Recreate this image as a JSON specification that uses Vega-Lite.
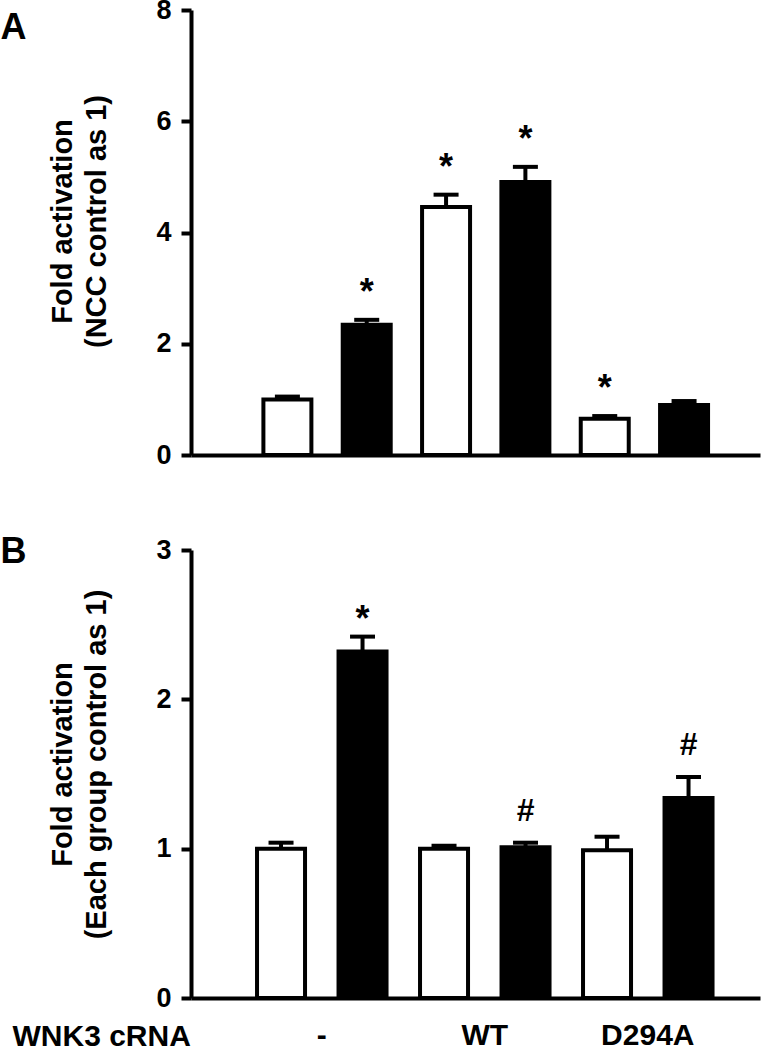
{
  "$schema": "https://vega.github.io/schema/vega-lite/v6.json",
  "padding": {"left": 0, "top": -4, "right": 6, "bottom": 0},
  "background": "white",
  "datasets": {
    "panelA": [
      {"wnk3": "-", "treatment": "control", "value": 1.0, "upper": 1.05, "sig": ""},
      {"wnk3": "-", "treatment": "treated", "value": 2.34, "upper": 2.43, "sig": "*"},
      {"wnk3": "WT", "treatment": "control", "value": 4.46, "upper": 4.68, "sig": "*"},
      {"wnk3": "WT", "treatment": "treated", "value": 4.91, "upper": 5.18, "sig": "*"},
      {"wnk3": "D294A", "treatment": "control", "value": 0.65, "upper": 0.7, "sig": "*"},
      {"wnk3": "D294A", "treatment": "treated", "value": 0.9, "upper": 0.97, "sig": ""}
    ],
    "panelB": [
      {"wnk3": "-", "treatment": "control", "value": 1.0, "upper": 1.04, "sig": ""},
      {"wnk3": "-", "treatment": "treated", "value": 2.32, "upper": 2.42, "sig": "*"},
      {"wnk3": "WT", "treatment": "control", "value": 1.0, "upper": 1.02, "sig": ""},
      {"wnk3": "WT", "treatment": "treated", "value": 1.01, "upper": 1.04, "sig": "#"},
      {"wnk3": "D294A", "treatment": "control", "value": 0.99, "upper": 1.08, "sig": ""},
      {"wnk3": "D294A", "treatment": "treated", "value": 1.34, "upper": 1.48, "sig": "#"}
    ]
  },
  "vconcat": [
    {
      "width": 569,
      "height": 445,
      "data": {"name": "panelA"},
      "encoding": {
        "x": {"field": "wnk3", "type": "nominal", "sort": ["-", "WT", "D294A"],
              "scale": {"paddingInner": 0, "paddingOuter": 0.293, "align": 0.61},
              "axis": {"labels": false, "ticks": false, "title": null, "domainWidth": 4, "domainColor": "black"}},
        "xOffset": {"field": "treatment", "type": "nominal", "sort": ["control", "treated"],
                    "scale": {"paddingInner": 0.395, "paddingOuter": 0.1977}}
      },
      "layer": [
        {
          "mark": {"type": "bar", "stroke": "black", "strokeWidth": 4},
          "encoding": {
            "y": {"field": "value", "type": "quantitative",
                  "scale": {"domain": [0, 8], "nice": false},
                  "axis": {"values": [0, 2, 4, 6, 8], "format": "d", "title": ["Fold activation", "(NCC control as 1)"], "titlePadding": 44, "titleY": 211}},
            "fill": {"field": "treatment", "type": "nominal", "scale": {"domain": ["control", "treated"], "range": ["white", "black"]}, "legend": null}
          }
        },
        {
          "mark": {"type": "rule", "strokeWidth": 4, "color": "black"},
          "encoding": {"y": {"field": "value", "type": "quantitative", "axis": null}, "y2": {"field": "upper"}}
        },
        {
          "mark": {"type": "tick", "size": 25, "thickness": 4, "color": "black", "opacity": 1},
          "encoding": {"y": {"field": "upper", "type": "quantitative",
                             "axis": {"orient": "right", "labels": false, "ticks": false, "domain": false, "grid": false,
                                      "title": "A", "titleAngle": 0, "titleAlign": "left", "titleBaseline": "alphabetic",
                                      "titleX": -760, "titleY": 28, "titleFontSize": 36}}}
        },
        {
          "mark": {"type": "text", "baseline": "alphabetic", "dy": -16, "fontSize": 36, "fontWeight": "bold", "font": "Liberation Sans", "color": "black"},
          "encoding": {"y": {"field": "upper", "type": "quantitative", "axis": null}, "text": {"field": "sig"}}
        }
      ],
      "resolve": {"axis": {"y": "independent"}}
    },
    {
      "width": 569,
      "height": 448,
      "data": {"name": "panelB"},
      "encoding": {
        "x": {"field": "wnk3", "type": "nominal", "sort": ["-", "WT", "D294A"],
              "scale": {"paddingInner": 0, "paddingOuter": 0.2454, "align": 0.616},
              "axis": {"labels": true, "ticks": false, "tickSize": 0, "labelAngle": 0, "labelPadding": 22, "labelFontSize": 30,
                       "domainWidth": 4, "domainColor": "black",
                       "title": "WNK3 cRNA", "titleAnchor": "start", "titleAlign": "left", "titleBaseline": "alphabetic",
                       "titleX": -179, "titleY": 47, "titleFontSize": 30}},
        "xOffset": {"field": "treatment", "type": "nominal", "sort": ["control", "treated"],
                    "scale": {"paddingInner": 0.411, "paddingOuter": 0.2055}}
      },
      "layer": [
        {
          "mark": {"type": "bar", "stroke": "black", "strokeWidth": 4},
          "encoding": {
            "y": {"field": "value", "type": "quantitative",
                  "scale": {"domain": [0, 3], "nice": false},
                  "axis": {"values": [0, 1, 2, 3], "format": "d", "title": ["Fold activation", "(Each group control as 1)"], "titlePadding": 44, "titleY": 214}},
            "fill": {"field": "treatment", "type": "nominal", "scale": {"domain": ["control", "treated"], "range": ["white", "black"]}, "legend": null}
          }
        },
        {
          "mark": {"type": "rule", "strokeWidth": 4, "color": "black"},
          "encoding": {"y": {"field": "value", "type": "quantitative", "axis": null}, "y2": {"field": "upper"}}
        },
        {
          "mark": {"type": "tick", "size": 25, "thickness": 4, "color": "black", "opacity": 1},
          "encoding": {"y": {"field": "upper", "type": "quantitative",
                             "axis": {"orient": "right", "labels": false, "ticks": false, "domain": false, "grid": false,
                                      "title": "B", "titleAngle": 0, "titleAlign": "left", "titleBaseline": "alphabetic",
                                      "titleX": -760, "titleY": 12, "titleFontSize": 36}}}
        },
        {
          "transform": [{"filter": "datum.sig == '*'"}],
          "mark": {"type": "text", "baseline": "alphabetic", "dy": -6, "fontSize": 36, "fontWeight": "bold", "font": "Liberation Sans", "color": "black"},
          "encoding": {"y": {"field": "upper", "type": "quantitative", "axis": null}, "text": {"field": "sig"}}
        },
        {
          "transform": [{"filter": "datum.sig == '#'"}],
          "mark": {"type": "text", "baseline": "alphabetic", "dy": -22, "fontSize": 32, "fontWeight": "bold", "font": "Liberation Sans", "color": "black"},
          "encoding": {"y": {"field": "upper", "type": "quantitative", "axis": null}, "text": {"field": "sig"}}
        }
      ],
      "resolve": {"axis": {"y": "independent"}}
    }
  ],
  "spacing": 65,
  "resolve": {"scale": {"x": "independent", "y": "independent", "xOffset": "independent", "fill": "shared"}},
  "config": {
    "view": {"stroke": null},
    "font": "Liberation Sans",
    "axis": {
      "grid": false,
      "domainColor": "black",
      "domainWidth": 4,
      "tickColor": "black",
      "tickWidth": 4,
      "tickSize": 10,
      "labelFont": "Liberation Sans",
      "labelFontSize": 27,
      "labelFontWeight": "bold",
      "labelColor": "black",
      "labelPadding": 10,
      "labelFlush": false,
      "labelOverlap": false,
      "titleFont": "Liberation Sans",
      "titleFontSize": 29,
      "titleFontWeight": "bold",
      "titleColor": "black",
      "titleLineHeight": 34
    }
  }
}
